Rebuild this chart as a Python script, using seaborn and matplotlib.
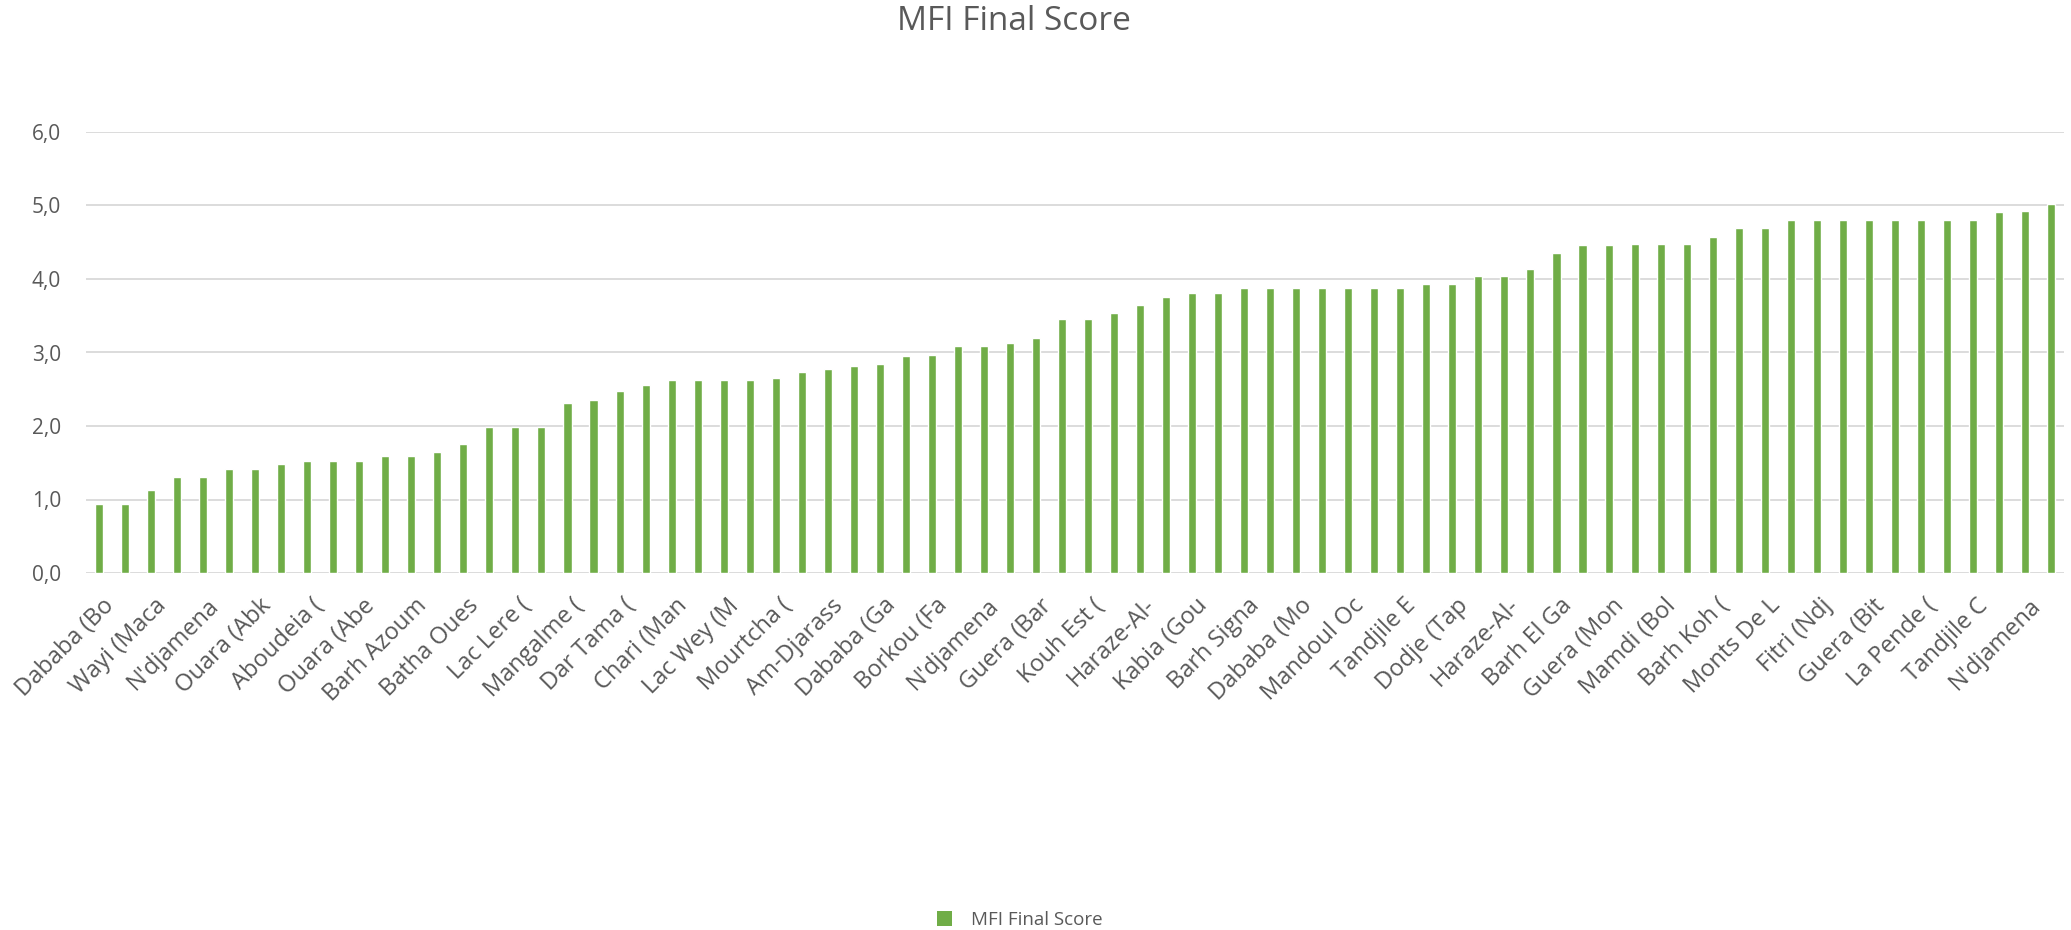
import numpy as np
import matplotlib
matplotlib.use("Agg")
import matplotlib.pyplot as plt
import matplotlib.transforms as mtransforms
import seaborn as sns
from matplotlib.patches import Patch
from matplotlib.ticker import FuncFormatter

title = "MFI Final Score"
series_name = "MFI Final Score"

# labels shown on every other bar (bars 1, 3, 5, ...)
tick_labels = [
    "Dababa (Bo", "Wayi (Maca", "N'djamena", "Ouara (Abk", "Aboudeia (",
    "Ouara (Abe", "Barh Azoum", "Batha Oues", "Lac Lere (", "Mangalme (",
    "Dar Tama (", "Chari (Man", "Lac Wey (M", "Mourtcha (", "Am-Djarass",
    "Dababa (Ga", "Borkou (Fa", "N'djamena", "Guera (Bar", "Kouh Est (",
    "Haraze-Al-", "Kabia (Gou", "Barh Signa", "Dababa (Mo", "Mandoul Oc",
    "Tandjile E", "Dodje (Tap", "Haraze-Al-", "Barh El Ga", "Guera (Mon",
    "Mamdi (Bol", "Barh Koh (", "Monts De L", "Fitri (Ndj", "Guera (Bit",
    "La Pende (", "Tandjile C", "N'djamena",
]

scores = [
    0.94, 0.94, 1.13, 1.30, 1.30, 1.42, 1.42, 1.48, 1.53, 1.53,
    1.53, 1.59, 1.59, 1.65, 1.76, 1.98, 1.98, 1.98, 2.31, 2.36,
    2.48, 2.56, 2.62, 2.62, 2.62, 2.62, 2.65, 2.73, 2.78, 2.81,
    2.84, 2.95, 2.97, 3.09, 3.09, 3.13, 3.20, 3.45, 3.45, 3.54,
    3.65, 3.75, 3.81, 3.81, 3.88, 3.88, 3.88, 3.88, 3.88, 3.88,
    3.88, 3.93, 3.93, 4.04, 4.04, 4.14, 4.35, 4.46, 4.46, 4.48,
    4.48, 4.48, 4.57, 4.70, 4.70, 4.80, 4.80, 4.80, 4.80, 4.80,
    4.80, 4.80, 4.80, 4.91, 4.93, 5.02,
]

y_ticks = [0, 1, 2, 3, 4, 5, 6]

GREEN = "#70AD47"
TEXT = "#595959"
GRID = "#D9D9D9"

sns.set_theme(style="white")
plt.rcParams["font.family"] = ["Open Sans", "DejaVu Sans"]

fig = plt.figure(figsize=(20.71, 9.30), dpi=100)
ax = fig.add_axes([86 / 2071, 1 - 573 / 930, (2064 - 86) / 2071, (573 - 132) / 930])

positions = np.arange(len(scores))
sns.barplot(x=positions, y=scores, color=GREEN, saturation=1, width=0.31,
            ax=ax, zorder=3)

ax.set_ylim(0, 6)
ax.set_xlim(-0.5, len(scores) - 0.5)
ax.set_yticks(y_ticks)
ax.yaxis.set_major_formatter(FuncFormatter(lambda v, p: f"{v:.1f}".replace(".", ",")))
ax.grid(axis="y", color=GRID, linewidth=1.3, zorder=0)
ax.set_axisbelow(True)
for s in ax.spines.values():
    s.set_visible(False)

ax.set_xticks(positions[::2])
ax.set_xticklabels(tick_labels, rotation=45, ha="right", va="center",
                   rotation_mode="anchor", fontsize=17, color=TEXT)
ax.tick_params(axis="x", length=0, pad=21)
ax.tick_params(axis="y", length=0, pad=18, labelsize=15, labelcolor=TEXT)
shift = mtransforms.ScaledTranslation(12 / 100, 0, fig.dpi_scale_trans)
for lab in ax.get_xticklabels():
    lab.set_transform(lab.get_transform() + shift)
ax.set_xlabel("")
ax.set_ylabel("")

fig.text(768 / 1568, 1 - 22 / 930, title, ha="center", va="center", fontsize=24, color=TEXT)

handle = Patch(facecolor=GREEN, edgecolor="none", label=series_name)
fig.legend(handles=[handle], loc="center", bbox_to_anchor=(772 / 1568, 1 - 920 / 930),
           frameon=False, fontsize=13.5, labelcolor=TEXT, handlelength=0.8,
           handleheight=0.8, handletextpad=1.0)

fig.savefig("out.png", dpi=100, facecolor="white")
